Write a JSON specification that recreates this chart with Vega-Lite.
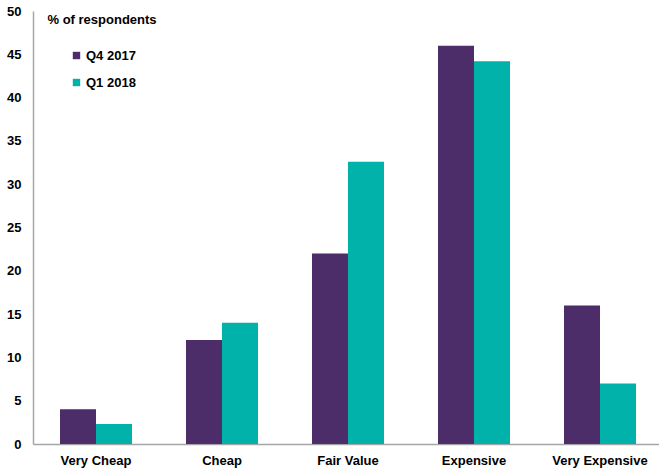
{
  "$schema": "https://vega.github.io/schema/vega-lite/v6.json",
  "width": 630,
  "height": 433,
  "autosize": {"type": "none"},
  "padding": {"left": 33, "top": 11, "right": 0, "bottom": 29},
  "background": "white",
  "config": {
    "view": {"stroke": null},
    "font": "Liberation Sans"
  },
  "data": {
    "values": [
      {"category": "Very Cheap", "series": "Q4 2017", "value": 4.0},
      {"category": "Very Cheap", "series": "Q1 2018", "value": 2.3},
      {"category": "Cheap", "series": "Q4 2017", "value": 12.0},
      {"category": "Cheap", "series": "Q1 2018", "value": 14.0},
      {"category": "Fair Value", "series": "Q4 2017", "value": 22.0},
      {"category": "Fair Value", "series": "Q1 2018", "value": 32.6},
      {"category": "Expensive", "series": "Q4 2017", "value": 46.0},
      {"category": "Expensive", "series": "Q1 2018", "value": 44.2},
      {"category": "Very Expensive", "series": "Q4 2017", "value": 16.0},
      {"category": "Very Expensive", "series": "Q1 2018", "value": 7.0}
    ]
  },
  "mark": {"type": "bar"},
  "encoding": {
    "x": {
      "field": "category",
      "type": "nominal",
      "sort": ["Very Cheap", "Cheap", "Fair Value", "Expensive", "Very Expensive"],
      "scale": {"paddingInner": 0.4286, "paddingOuter": 0.2143},
      "axis": {
        "title": null,
        "labelAngle": 0,
        "labelFont": "Liberation Sans",
        "labelFontWeight": "bold",
        "labelFontSize": 13,
        "labelColor": "#000000",
        "labelPadding": 10,
        "ticks": false,
        "domainColor": "#A6A6A6",
        "domainWidth": 1.5
      }
    },
    "xOffset": {
      "field": "series",
      "type": "nominal",
      "sort": ["Q4 2017", "Q1 2018"],
      "scale": {"paddingInner": 0, "paddingOuter": 0}
    },
    "y": {
      "field": "value",
      "type": "quantitative",
      "scale": {"domain": [0, 50], "nice": false},
      "axis": {
        "values": [0, 5, 10, 15, 20, 25, 30, 35, 40, 45, 50],
        "grid": false,
        "ticks": false,
        "labelFont": "Liberation Sans",
        "labelFontWeight": "bold",
        "labelFontSize": 13,
        "labelColor": "#000000",
        "labelPadding": 12,
        "domainColor": "#A6A6A6",
        "domainWidth": 1.5,
        "title": "% of respondents",
        "titleAngle": 0,
        "titleX": 14,
        "titleY": 8,
        "titleAlign": "left",
        "titleBaseline": "middle",
        "titleFont": "Liberation Sans",
        "titleFontWeight": "bold",
        "titleFontSize": 13,
        "titleColor": "#000000"
      }
    },
    "color": {
      "field": "series",
      "type": "nominal",
      "sort": ["Q4 2017", "Q1 2018"],
      "scale": {"domain": ["Q4 2017", "Q1 2018"], "range": ["#4D2D69", "#00B2A9"]},
      "legend": {
        "title": null,
        "orient": "none",
        "legendX": 37,
        "legendY": 38,
        "symbolType": "square",
        "symbolSize": 55,
        "symbolStrokeWidth": 0,
        "labelFont": "Liberation Sans",
        "labelFontWeight": "bold",
        "labelFontSize": 13,
        "labelColor": "#000000",
        "labelOffset": 3,
        "rowPadding": 13
      }
    }
  }
}
